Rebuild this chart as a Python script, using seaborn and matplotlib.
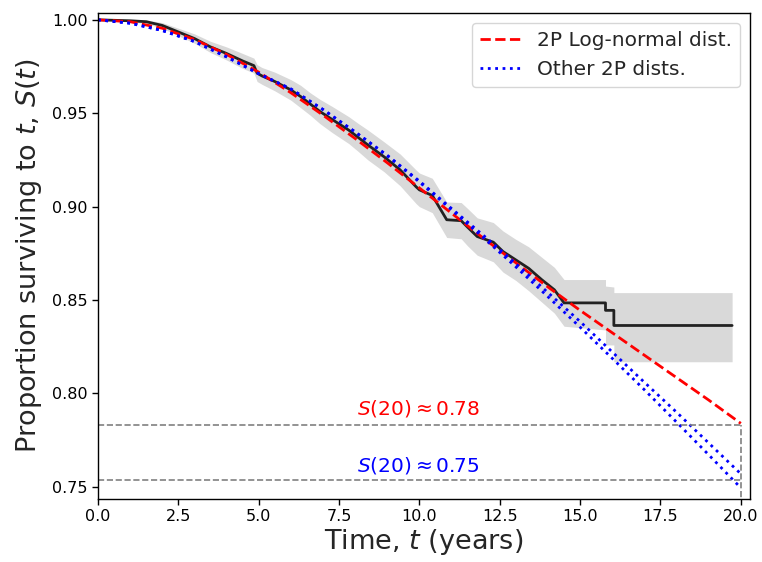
import numpy as np
import pandas as pd
import matplotlib
matplotlib.use('Agg')
import matplotlib.pyplot as plt
import seaborn as sns

sns.set_theme(style='ticks', rc={'axes.edgecolor': 'black', 'xtick.color': 'black',
                                 'ytick.color': 'black', 'axes.linewidth': 1.0})
plt.rcParams['font.family'] = ['DejaVu Sans']

# Kaplan-Meier estimate (corner points)
km_t = [0.0, 1.0, 1.5, 2.0, 2.5, 3.0, 3.5, 4.0, 4.5, 4.85, 4.95, 5.1, 5.5, 6.0, 6.3, 6.6,
        6.9, 7.3, 7.8, 8.1, 8.4, 8.9, 9.4, 9.9, 10.0, 10.4, 10.85, 11.3, 11.5, 11.8, 12.3,
        12.6, 13.0, 13.4, 13.8, 14.2, 14.5, 15.79, 15.79, 16.05, 16.05, 19.73]
km_s = [1.000, 0.9995, 0.999, 0.997, 0.9935, 0.990, 0.9855, 0.982, 0.978, 0.9755, 0.9715,
        0.970, 0.967, 0.9625, 0.959, 0.955, 0.951, 0.9465, 0.941, 0.937, 0.933, 0.9267,
        0.9197, 0.9106, 0.909, 0.906, 0.893, 0.8925, 0.889, 0.884, 0.881, 0.876, 0.8715,
        0.867, 0.861, 0.8555, 0.8485, 0.8485, 0.8445, 0.8445, 0.8364, 0.8364]
# confidence band
ci_lo = [1.000, 0.999, 0.998, 0.9955, 0.9915, 0.9875, 0.9825, 0.9785, 0.974, 0.9715, 0.967,
         0.9655, 0.962, 0.957, 0.953, 0.949, 0.9445, 0.9395, 0.9338, 0.9295, 0.925, 0.9187,
         0.9112, 0.9016, 0.900, 0.8968, 0.8835, 0.8828, 0.879, 0.874, 0.8705, 0.865, 0.8605,
         0.855, 0.849, 0.843, 0.836, 0.834, 0.826, 0.826, 0.817, 0.817]
ci_hi = [1.000, 1.000, 1.000, 0.9985, 0.9955, 0.9925, 0.9885, 0.9855, 0.982, 0.9795, 0.976,
         0.9745, 0.972, 0.968, 0.965, 0.961, 0.9575, 0.9535, 0.9482, 0.9445, 0.941, 0.9347,
         0.9282, 0.9196, 0.918, 0.9152, 0.9025, 0.9022, 0.899, 0.894, 0.8915, 0.887, 0.8825,
         0.8785, 0.873, 0.8675, 0.861, 0.861, 0.8575, 0.857, 0.854, 0.854]

# fitted parametric curves
fit_t = list(range(0, 21))
lognorm_s = [1.000, 0.9990, 0.9955, 0.9895, 0.9815, 0.9720, 0.9610, 0.9490, 0.9365, 0.9235,
             0.9100, 0.8965, 0.8830, 0.8700, 0.8570, 0.8445, 0.8325, 0.8205, 0.8085, 0.7965,
             0.7840]
other_a_s = [1.000, 0.9982, 0.9943, 0.9884, 0.9802, 0.9712, 0.9630, 0.9520, 0.9400, 0.9275,
             0.9137, 0.8990, 0.8845, 0.8695, 0.8540, 0.8385, 0.8222, 0.8060, 0.7900, 0.7735,
             0.7570]
other_b_s = [1.000, 0.9982, 0.9943, 0.9884, 0.9802, 0.9712, 0.9630, 0.9520, 0.9400, 0.9272,
             0.9132, 0.8983, 0.8832, 0.8678, 0.8518, 0.8355, 0.8188, 0.8020, 0.7847, 0.7672,
             0.7495]

s20_lognorm = 0.783
s20_other = 0.7535
t_end = 20

fig, ax = plt.subplots(figsize=(7.62, 5.62), dpi=100)
fig.subplots_adjust(left=0.1286, right=0.984, top=0.977, bottom=0.112)

ax.fill_between(km_t, ci_lo, ci_hi, color='#d9d9d9', lw=0)
sns.lineplot(x=km_t, y=km_s, ax=ax, color='#222222', lw=2, sort=False, estimator=None)

sns.lineplot(x=fit_t, y=lognorm_s, ax=ax, color='red', ls='--', lw=2,
             label='2P Log-normal dist.')
sns.lineplot(x=fit_t, y=other_a_s, ax=ax, color='blue', ls=':', lw=2,
             label='Other 2P dists.')
sns.lineplot(x=fit_t, y=other_b_s, ax=ax, color='blue', ls=':', lw=2)

ax.hlines([s20_lognorm, s20_other], 0, t_end, colors='gray', linestyles='--', lw=1.2)
ax.vlines(t_end, 0.74, s20_lognorm, colors='gray', linestyles='--', lw=1.2)

ax.text(8.05, s20_lognorm + 0.0035, r'$S(20) \approx 0.78$', color='red', fontsize=14.5,
        va='bottom', ha='left')
ax.text(8.05, s20_other + 0.0025, r'$S(20) \approx 0.75$', color='blue', fontsize=14.5,
        va='bottom', ha='left')

ax.set_xlim(0, 20.28)
ax.set_ylim(0.7435, 1.0037)
ax.set_xticks(np.arange(0, 20.1, 2.5))
ax.set_yticks([0.75, 0.80, 0.85, 0.90, 0.95, 1.00])
ax.tick_params(labelsize=11.5, length=4, width=1)
ax.set_xlabel('Time, $t$ (years)', fontsize=19.5, labelpad=2)
ax.set_ylabel('Proportion surviving to $t$, $S(t)$', fontsize=19.5, labelpad=6)

ax.legend(loc='upper right', fontsize=14.5, frameon=True, fancybox=True,
          framealpha=0.8, edgecolor='#cccccc')

fig.savefig('out.png', dpi=100)
